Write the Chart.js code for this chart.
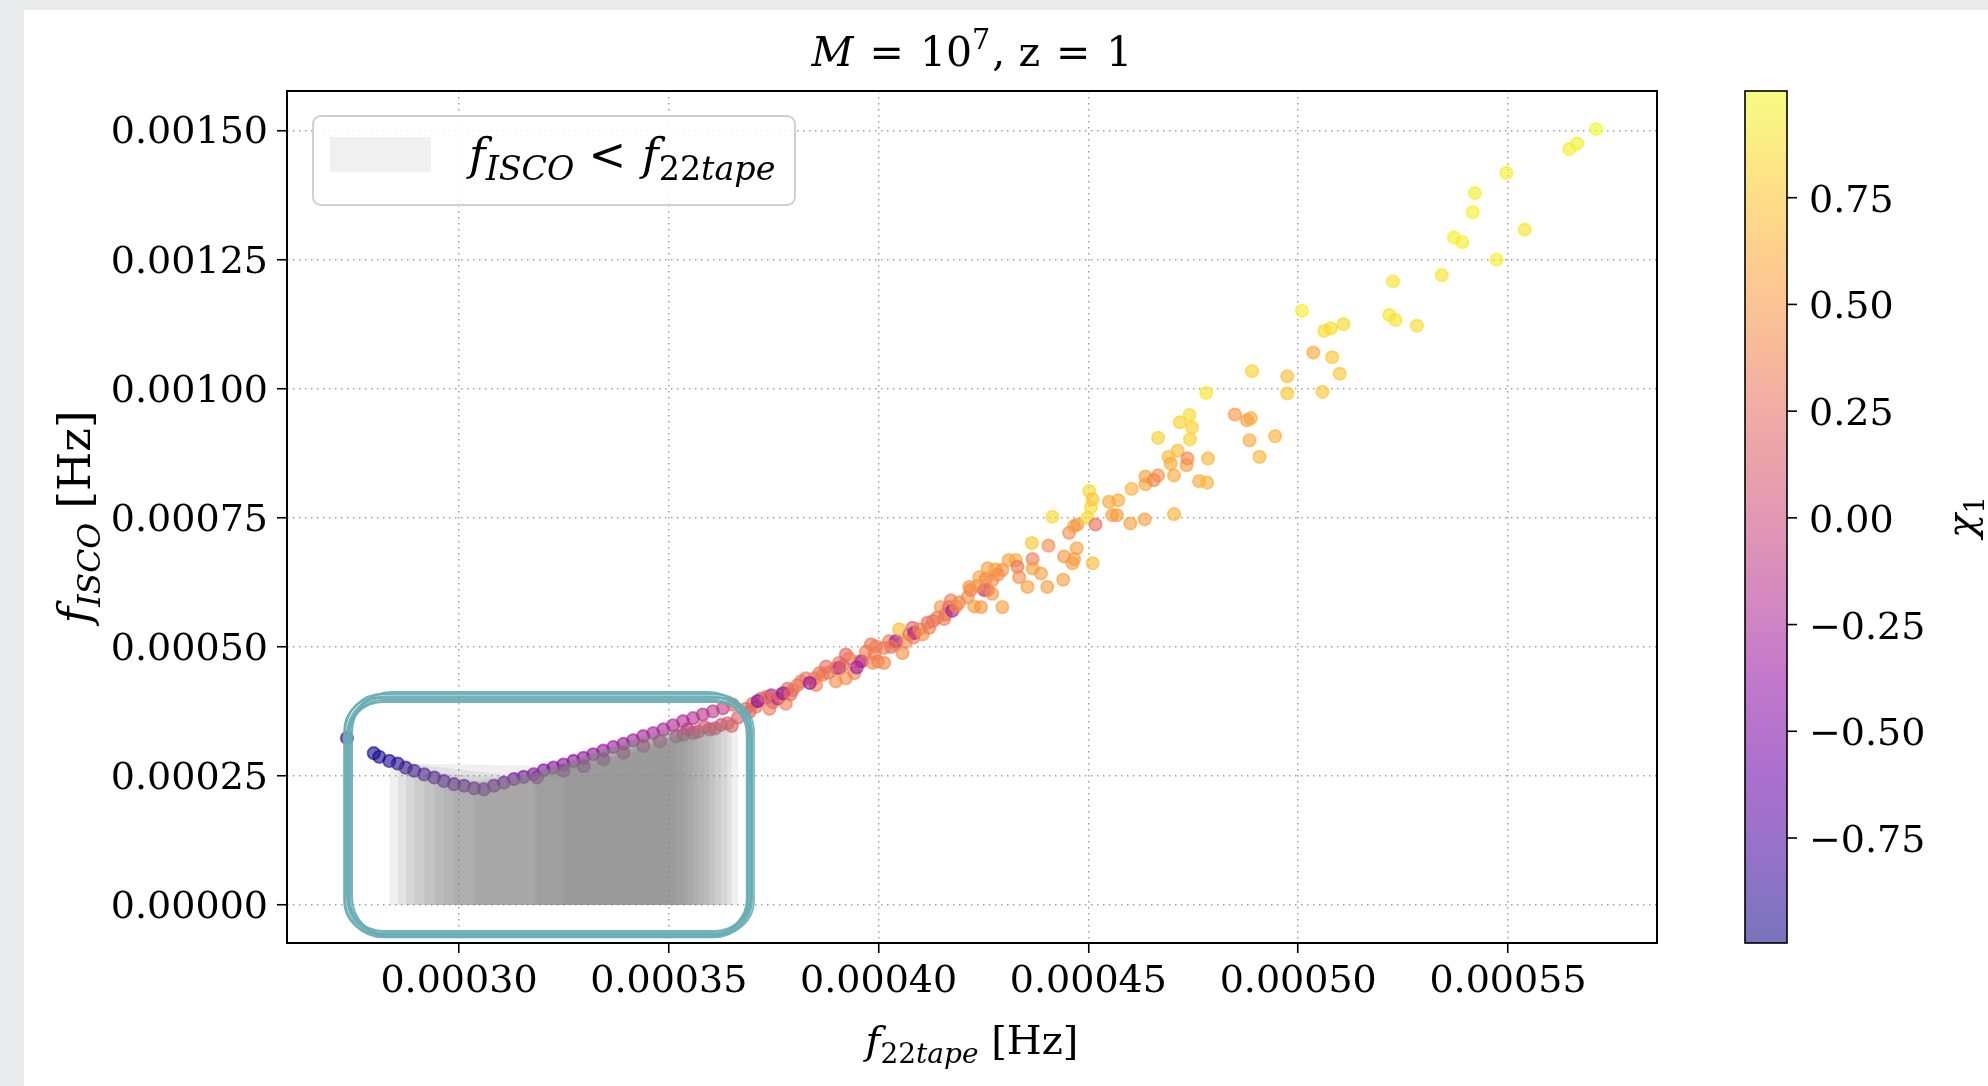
<!DOCTYPE html>
<html>
<head>
<meta charset="utf-8">
<title>f_ISCO vs f_22tape</title>
<style>
  html, body { margin: 0; padding: 0; background: #e9eaec; }
  #wrap { position: absolute; left: 0; top: 0; width: 1988px; height: 1086px; }
  canvas { display: block; }
</style>
<script src="https://cdn.jsdelivr.net/npm/chart.js@4.4.1/dist/chart.umd.min.js"></script>
</head>
<body>
<div id="wrap"><canvas id="c" width="1988" height="1086"></canvas></div>
<script>
// ---- samples: 22-mode tape frequency, ISCO frequency, primary spin ----
const f22tape = [
  2.733e-4, 2.797e-4, 2.810e-4, 2.834e-4, 2.854e-4, 2.873e-4, 2.893e-4, 2.917e-4, 2.941e-4, 2.964e-4,
  2.988e-4, 3.012e-4, 3.036e-4, 3.059e-4, 3.083e-4, 3.107e-4, 3.131e-4, 3.154e-4, 3.178e-4, 3.202e-4,
  3.225e-4, 3.249e-4, 3.273e-4, 3.297e-4, 3.320e-4, 3.344e-4, 3.368e-4, 3.392e-4, 3.415e-4, 3.439e-4,
  3.463e-4, 3.487e-4, 3.510e-4, 3.534e-4, 3.558e-4, 3.581e-4, 3.605e-4, 3.629e-4, 3.653e-4,
  3.186e-4, 3.249e-4, 3.297e-4, 3.344e-4, 3.392e-4, 3.439e-4, 3.479e-4, 3.518e-4, 3.535e-4, 3.545e-4,
  3.558e-4, 3.570e-4, 3.585e-4, 3.597e-4, 3.610e-4, 3.625e-4, 3.640e-4, 3.650e-4, 3.665e-4,
  3.684e-4, 3.692e-4, 3.700e-4, 3.708e-4, 3.720e-4, 3.740e-4, 3.744e-4, 3.748e-4, 3.760e-4, 3.764e-4,
  3.779e-4, 3.783e-4, 3.795e-4, 3.807e-4, 3.815e-4, 3.827e-4, 3.847e-4, 3.851e-4, 3.859e-4, 3.867e-4,
  3.875e-4, 3.898e-4, 3.898e-4, 3.906e-4, 3.906e-4, 3.922e-4, 3.922e-4, 3.930e-4, 3.942e-4, 3.954e-4,
  3.960e-4, 3.970e-4, 3.982e-4, 3.986e-4, 3.994e-4, 3.998e-4, 4.013e-4, 4.013e-4, 4.025e-4, 4.041e-4,
  4.041e-4, 4.049e-4, 4.057e-4, 4.073e-4, 4.081e-4, 4.083e-4, 4.085e-4, 4.097e-4, 4.105e-4, 4.117e-4,
  4.121e-4, 4.140e-4, 4.148e-4, 4.156e-4, 4.160e-4, 4.168e-4, 4.172e-4, 4.176e-4, 4.192e-4, 4.212e-4,
  4.216e-4, 4.220e-4, 4.228e-4, 4.240e-4, 4.244e-4, 4.252e-4, 4.256e-4, 4.260e-4, 4.260e-4, 4.271e-4,
  4.271e-4, 4.279e-4, 4.295e-4, 4.295e-4, 4.310e-4, 4.327e-4, 4.331e-4, 4.335e-4, 4.355e-4, 4.365e-4,
  4.367e-4, 4.367e-4, 4.387e-4, 4.402e-4, 4.405e-4, 4.414e-4, 4.440e-4, 4.442e-4, 4.454e-4, 4.462e-4,
  4.466e-4, 4.466e-4, 4.472e-4, 4.474e-4, 4.498e-4, 4.502e-4, 4.506e-4, 4.510e-4, 4.510e-4, 4.517e-4,
  4.549e-4, 4.557e-4, 4.568e-4, 4.571e-4, 4.600e-4, 4.603e-4, 4.634e-4, 4.636e-4, 4.636e-4, 4.656e-4,
  4.666e-4, 4.666e-4, 4.691e-4, 4.696e-4, 4.704e-4, 4.704e-4, 4.713e-4, 4.718e-4, 4.734e-4, 4.736e-4,
  4.741e-4, 4.742e-4, 4.747e-4, 4.764e-4, 4.781e-4, 4.783e-4, 4.785e-4, 4.849e-4, 4.878e-4, 4.887e-4,
  4.884e-4, 4.890e-4, 4.908e-4, 4.945e-4, 4.974e-4, 4.974e-4, 5.009e-4, 5.036e-4, 5.058e-4, 5.062e-4,
  5.078e-4, 5.081e-4, 5.099e-4, 5.108e-4, 5.217e-4, 5.226e-4, 5.232e-4, 5.283e-4, 5.342e-4, 5.371e-4,
  5.391e-4, 5.416e-4, 5.421e-4, 5.473e-4, 5.496e-4, 5.540e-4, 5.646e-4, 5.665e-4, 5.710e-4,
  3.712e-4, 3.733e-4, 3.772e-4, 3.790e-4, 3.836e-4, 3.880e-4, 3.915e-4, 3.948e-4, 3.990e-4, 4.030e-4,
  4.065e-4, 4.130e-4, 4.185e-4, 4.235e-4, 4.285e-4
];
const fISCO = [
  3.235e-4, 2.940e-4, 2.870e-4, 2.790e-4, 2.740e-4, 2.660e-4, 2.600e-4, 2.530e-4, 2.470e-4, 2.400e-4,
  2.340e-4, 2.310e-4, 2.260e-4, 2.240e-4, 2.310e-4, 2.370e-4, 2.440e-4, 2.480e-4, 2.530e-4, 2.610e-4,
  2.660e-4, 2.720e-4, 2.790e-4, 2.850e-4, 2.920e-4, 2.990e-4, 3.060e-4, 3.120e-4, 3.190e-4, 3.270e-4,
  3.330e-4, 3.400e-4, 3.480e-4, 3.560e-4, 3.620e-4, 3.690e-4, 3.750e-4, 3.810e-4, 3.880e-4,
  2.470e-4, 2.600e-4, 2.690e-4, 2.820e-4, 2.950e-4, 3.080e-4, 3.170e-4, 3.270e-4, 3.300e-4, 3.400e-4,
  3.330e-4, 3.360e-4, 3.450e-4, 3.400e-4, 3.420e-4, 3.490e-4, 3.520e-4, 3.470e-4, 3.630e-4,
  3.80e-4, 3.74e-4, 3.90e-4, 3.84e-4, 4.00e-4, 3.80e-4, 4.06e-4, 3.93e-4, 4.00e-4, 4.06e-4,
  3.90e-4, 4.19e-4, 4.16e-4, 4.26e-4, 4.33e-4, 4.39e-4, 4.39e-4, 4.26e-4, 4.49e-4, 4.46e-4,
  4.62e-4, 4.59e-4, 4.33e-4, 4.69e-4, 4.59e-4, 4.85e-4, 4.39e-4, 4.78e-4, 4.49e-4, 4.72e-4,
  4.72e-4, 4.91e-4, 5.05e-4, 4.69e-4, 5.01e-4, 4.72e-4, 4.98e-4, 4.69e-4, 5.11e-4, 5.05e-4,
  5.11e-4, 5.34e-4, 4.88e-4, 5.24e-4, 5.37e-4, 5.18e-4, 5.27e-4, 5.34e-4, 5.24e-4, 5.47e-4,
  5.37e-4, 5.57e-4, 5.77e-4, 5.54e-4, 5.63e-4, 5.77e-4, 5.90e-4, 5.70e-4, 5.86e-4, 5.96e-4,
  6.16e-4, 6.10e-4, 5.78e-4, 6.35e-4, 5.77e-4, 6.10e-4, 6.32e-4, 6.52e-4, 6.10e-4, 6.29e-4,
  6.03e-4, 6.50e-4, 6.49e-4, 5.77e-4, 6.68e-4, 6.68e-4, 6.55e-4, 6.35e-4, 6.16e-4, 7.01e-4,
  6.70e-4, 6.52e-4, 6.42e-4, 6.16e-4, 6.96e-4, 7.52e-4, 6.30e-4, 6.75e-4, 7.21e-4, 6.62e-4,
  6.70e-4, 7.34e-4, 6.91e-4, 7.37e-4, 7.50e-4, 8.02e-4, 7.70e-4, 7.86e-4, 6.62e-4, 7.37e-4,
  7.81e-4, 7.55e-4, 7.55e-4, 7.84e-4, 7.39e-4, 8.06e-4, 7.47e-4, 8.15e-4, 8.30e-4, 8.23e-4,
  8.32e-4, 9.05e-4, 8.68e-4, 8.55e-4, 8.32e-4, 7.57e-4, 8.80e-4, 9.35e-4, 8.52e-4, 8.65e-4,
  9.49e-4, 9.02e-4, 9.25e-4, 8.21e-4, 9.92e-4, 8.18e-4, 8.65e-4, 9.50e-4, 9.39e-4, 9.43e-4,
  9.00e-4, 10.34e-4, 8.68e-4, 9.08e-4, 10.24e-4, 9.91e-4, 11.51e-4, 10.70e-4, 9.94e-4, 11.12e-4,
  11.17e-4, 10.61e-4, 10.29e-4, 11.25e-4, 11.43e-4, 12.08e-4, 11.33e-4, 11.22e-4, 12.20e-4, 12.93e-4,
  12.84e-4, 13.42e-4, 13.79e-4, 12.50e-4, 14.18e-4, 13.08e-4, 14.64e-4, 14.75e-4, 15.03e-4,
  3.95e-4, 4.03e-4, 4.10e-4, 4.08e-4, 4.30e-4, 4.50e-4, 4.64e-4, 4.60e-4, 4.86e-4, 5.00e-4,
  5.10e-4, 5.50e-4, 5.78e-4, 6.18e-4, 6.40e-4
];
const chi1 = [
  -0.80, -0.996, -0.95, -0.93, -0.90, -0.87, -0.84, -0.80, -0.77, -0.74,
  -0.71, -0.68, -0.66, -0.63, -0.60, -0.58, -0.55, -0.53, -0.50, -0.48,
  -0.46, -0.44, -0.42, -0.40, -0.38, -0.36, -0.34, -0.32, -0.30, -0.28,
  -0.26, -0.24, -0.22, -0.20, -0.18, -0.15, -0.12, -0.08, 0.20,
  -0.40, -0.35, -0.30, -0.25, -0.20, -0.15, -0.10, -0.05, 0.00, -0.10,
  0.00, 0.05, 0.10, 0.05, 0.10, 0.10, 0.15, 0.20, 0.15,
  0.20, 0.15, 0.25, 0.30, 0.25, 0.35, -0.30, 0.25, -0.25, 0.30,
  0.35, 0.30, 0.25, 0.30, 0.35, 0.30, 0.35, 0.40, 0.30, 0.35,
  0.25, 0.30, 0.45, 0.30, -0.20, 0.20, 0.45, 0.35, 0.40, 0.40,
  -0.25, 0.35, 0.30, 0.45, 0.35, 0.40, 0.30, 0.40, 0.35, 0.40,
  -0.30, 0.70, 0.45, 0.30, 0.20, 0.35, -0.25, 0.40, 0.45, 0.25,
  0.35, 0.35, 0.50, 0.35, 0.30, 0.20, 0.35, -0.30, 0.40, 0.45,
  0.50, 0.40, 0.55, 0.60, 0.50, -0.20, 0.40, 0.55, 0.25, 0.45,
  0.50, 0.55, 0.50, 0.55, 0.55, 0.60, 0.30, 0.45, 0.55, 0.75,
  0.35, 0.55, 0.55, 0.55, 0.45, 0.85, 0.55, 0.50, 0.45, 0.55,
  0.55, 0.55, 0.55, 0.50, 0.85, 0.85, 0.85, 0.75, 0.70, 0.25,
  0.60, 0.55, 0.55, 0.60, 0.55, 0.65, 0.55, 0.60, 0.55, 0.40,
  0.45, 0.80, 0.70, 0.60, 0.60, 0.65, 0.70, 0.80, 0.55, 0.40,
  0.85, 0.80, 0.80, 0.60, 0.90, 0.65, 0.65, 0.50, 0.55, 0.60,
  0.60, 0.80, 0.65, 0.65, 0.70, 0.75, 0.95, 0.60, 0.75, 0.85,
  0.85, 0.75, 0.75, 0.85, 0.90, 0.90, 0.90, 0.85, 0.90, 0.95,
  0.95, 0.95, 0.95, 0.95, 0.95, 0.90, 0.95, 0.95, 1.00,
  -0.45, 0.20, -0.40, 0.25, -0.35, 0.30, 0.20, -0.30, 0.35, 0.30,
  0.40, 0.30, 0.45, 0.50, 0.45
];
// fill_between run each sample belongs to when f_ISCO < f_22tape (null: not shaded)
const fillRun = [
  null, null, null, 0, 1, 2, 3, 4, 5, 6,
  7, 4, 8, 2, 6, 5, 3, 0, 10, 7,
  8, 11, 9, 11, 10, 11, 10, 9, 3, 8,
  7, 0, 5, null, null, null, null, null, null,
  9, 6, 1, 4, 5, 2, 6, 11, 10, 9,
  8, 7, 6, 5, 4, 3, 2, 1, 0
];

// ---- axes ----
const xTicks = [0.00030, 0.00035, 0.00040, 0.00045, 0.00050, 0.00055];
const yTicks = [0.00000, 0.00025, 0.00050, 0.00075, 0.00100, 0.00125, 0.00150];
const cbTicks = [-0.75, -0.50, -0.25, 0.00, 0.25, 0.50, 0.75];
const X_MIN = 0.00025901, X_MAX = 0.00058551;
const Y_MIN = -0.0000736, Y_MAX = 0.0015767;

// highlighted region (data units)
const highlight = { x0: 0.00027355, x1: 0.00036935, y0: -0.0000580, y1: 0.00040288 };

const FONT = '"DejaVu Serif", serif';
const ALPHA = 0.56;

// plasma colour map
const PLASMA = [[13,8,135],[65,4,157],[106,0,168],[143,13,164],[177,42,144],[204,71,120],
                [225,100,98],[242,132,75],[252,166,54],[252,206,37],[240,249,33]];
function plasma(t) {
  t = Math.max(0, Math.min(1, t));
  const p = t * (PLASMA.length - 1);
  const i = Math.min(Math.floor(p), PLASMA.length - 2);
  const f = p - i;
  return PLASMA[i].map((c, k) => Math.round(c + (PLASMA[i + 1][k] - c) * f));
}
const CB_MIN = Math.min(...chi1), CB_MAX = Math.max(...chi1);
function chiColor(v, a) {
  const c = plasma((v - CB_MIN) / (CB_MAX - CB_MIN));
  return `rgba(${c[0]},${c[1]},${c[2]},${a})`;
}

// ---- datasets ----
const pointFill = chi1.map(v => chiColor(v, 0.6));
const scatterSet = {
  type: 'scatter',
  data: f22tape.map((x, i) => ({ x, y: fISCO[i] })),
  pointRadius: 6.2,
  pointBorderWidth: 1.8,
  pointBackgroundColor: pointFill,
  pointBorderColor: pointFill,
  order: 1
};
const runIds = [...new Set(fillRun.filter(r => r !== null))];
const fillSets = runIds.map(id => {
  const pts = [];
  fillRun.forEach((r, i) => { if (r === id) pts.push({ x: f22tape[i], y: fISCO[i] }); });
  pts.sort((a, b) => a.x - b.x);
  return {
    type: 'line', data: pts, fill: 'origin',
    backgroundColor: 'rgba(128,128,128,0.12)', borderColor: 'rgba(0,0,0,0)',
    borderWidth: 0, pointRadius: 0, tension: 0, order: 0
  };
});

// ---- text helpers (math-like runs with sub/superscripts) ----
function fontStr(size, italic) { return (italic ? 'italic ' : '') + size + 'px ' + FONT; }
function drawRich(ctx, parts, size, x, y, align, rot, subScale) {
  const ss = subScale || 0.7;
  ctx.save();
  ctx.translate(x, y);
  if (rot) ctx.rotate(rot);
  let w = 0;
  const items = parts.map(p => {
    const s = (p.sub || p.sup) ? size * ss : size;
    ctx.font = fontStr(s, p.it);
    const it = { t: p.t, font: ctx.font, x: w + (p.pre || 0), dy: p.sub ? size * 0.22 : (p.sup ? -size * 0.42 : 0) };
    w += (p.pre || 0) + ctx.measureText(p.t).width + (p.gap || 0);
    return it;
  });
  const x0 = align === 'center' ? -w / 2 : 0;
  ctx.fillStyle = '#000';
  ctx.textAlign = 'left';
  ctx.textBaseline = 'alphabetic';
  items.forEach(it => { ctx.font = it.font; ctx.fillText(it.t, x0 + it.x, it.dy); });
  ctx.restore();
}
function roundRectPath(ctx, x, y, w, h, r) {
  ctx.beginPath();
  ctx.moveTo(x + r, y);
  ctx.arcTo(x + w, y, x + w, y + h, r);
  ctx.arcTo(x + w, y + h, x, y + h, r);
  ctx.arcTo(x, y + h, x, y, r);
  ctx.arcTo(x, y, x + w, y, r);
  ctx.closePath();
}

const pagePlugin = {
  id: 'page',
  beforeDraw(chart) {
    const ctx = chart.ctx;
    ctx.save();
    ctx.fillStyle = '#e9eaec';
    ctx.fillRect(0, 0, chart.width, chart.height);
    ctx.fillStyle = '#ffffff';
    ctx.fillRect(24, 10, chart.width - 24, chart.height - 10);
    ctx.restore();
  }
};

const decorPlugin = {
  id: 'decor',
  afterDraw(chart) {
    const ctx = chart.ctx;
    const a = chart.chartArea;
    const sx = chart.scales.x, sy = chart.scales.y;

    // axes frame
    ctx.save();
    ctx.strokeStyle = '#000';
    ctx.lineWidth = 2;
    ctx.strokeRect(a.left, a.top, a.right - a.left, a.bottom - a.top);
    ctx.restore();

    // legend
    ctx.save();
    roundRectPath(ctx, 313, 116, 482, 89, 8);
    ctx.fillStyle = 'rgba(255,255,255,0.85)';
    ctx.fill();
    ctx.strokeStyle = '#d0d0d0';
    ctx.lineWidth = 2;
    ctx.stroke();
    ctx.fillStyle = 'rgba(128,128,128,0.12)';
    ctx.fillRect(330, 137, 101, 35);
    ctx.restore();
    drawRich(ctx, [{ t: 'f', it: true }, { t: 'ISCO', it: true, sub: true, gap: 14 }, { t: '<', gap: 16 },
                   { t: 'f', it: true }, { t: '22', sub: true }, { t: 'tape', it: true, sub: true }],
             45, 469, 170, 'left', 0, 0.74);

    // title and axis labels
    drawRich(ctx, [{ t: 'M', it: true }, { t: '=', pre: 16, gap: 16 }, { t: '10' }, { t: '7', sup: true }, { t: ', z', pre: 2 }, { t: '=', pre: 16, gap: 16 }, { t: '1' }],
             41, (a.left + a.right) / 2, 66, 'center');
    drawRich(ctx, [{ t: 'f', it: true }, { t: '22', sub: true }, { t: 'tape', it: true, sub: true }, { t: ' [Hz]' }],
             40, (a.left + a.right) / 2, 1054, 'center');
    drawRich(ctx, [{ t: 'f', it: true }, { t: 'ISCO', it: true, sub: true }, { t: ' [Hz]' }],
             45, 90, (a.top + a.bottom) / 2, 'center', -Math.PI / 2);

    // colour bar
    const cbL = 1745, cbR = 1787, cbT = a.top, cbB = a.bottom;
    ctx.save();
    for (let y = cbT; y < cbB; y++) {
      const v = CB_MAX - (y + 0.5 - cbT) / (cbB - cbT) * (CB_MAX - CB_MIN);
      ctx.fillStyle = chiColor(v, ALPHA);
      ctx.fillRect(cbL, y, cbR - cbL, 1);
    }
    ctx.strokeStyle = '#000';
    ctx.lineWidth = 1.6;
    ctx.strokeRect(cbL, cbT, cbR - cbL, cbB - cbT);
    ctx.font = fontStr(38, false);
    ctx.fillStyle = '#000';
    ctx.textAlign = 'left';
    ctx.textBaseline = 'alphabetic';
    cbTicks.forEach(v => {
      const py = cbB - (v - CB_MIN) / (CB_MAX - CB_MIN) * (cbB - cbT);
      ctx.beginPath();
      ctx.moveTo(cbR, py);
      ctx.lineTo(cbR + 10, py);
      ctx.stroke();
      const s = (v < 0 ? '\u2212' : '') + Math.abs(v).toFixed(2);
      ctx.fillText(s, 1809, py + 14);
    });
    ctx.restore();
    drawRich(ctx, [{ t: '\u03c7', it: true }, { t: '1', sub: true }], 40, 1975, (a.top + a.bottom) / 2, 'center', -Math.PI / 2);

    // hand-drawn highlight around the shaded region
    const hx0 = sx.getPixelForValue(highlight.x0), hx1 = sx.getPixelForValue(highlight.x1);
    const hy0 = sy.getPixelForValue(highlight.y1), hy1 = sy.getPixelForValue(highlight.y0);
    const strokes = [[0, 0, 0, 0, 3, 36], [-3, -3, 2, 2, 2.4, 38], [2, 3, -3, -2, 2.4, 34],
                     [-1, 5, 1, -4, 2, 36], [4, -5, -2, 2, 2, 40], [-4, 1, 4, -1, 1.6, 33]];
    ctx.save();
    ctx.strokeStyle = 'rgba(104,172,180,0.92)';
    strokes.forEach(s => {
      ctx.lineWidth = s[4];
      roundRectPath(ctx, hx0 + s[0], hy0 + s[1], (hx1 + s[2]) - (hx0 + s[0]), (hy1 + s[3]) - (hy0 + s[1]), s[5]);
      ctx.stroke();
    });
    ctx.restore();
  }
};

new Chart(document.getElementById('c'), {
  type: 'scatter',
  data: { datasets: [scatterSet, ...fillSets] },
  options: {
    responsive: false,
    devicePixelRatio: 1,
    animation: false,
    events: [],
    layout: { padding: { left: 0, top: 91, right: 331, bottom: 0 } },
    plugins: { legend: { display: false }, tooltip: { enabled: false }, title: { display: false } },
    scales: {
      x: {
        type: 'linear', position: 'bottom', min: X_MIN, max: X_MAX,
        afterBuildTicks: s => { s.ticks = xTicks.map(v => ({ value: v })); },
        afterFit: s => { s.height = 143; },
        ticks: { callback: v => v.toFixed(5), font: { family: FONT, size: 38 }, color: '#000', padding: 6, maxRotation: 0, autoSkip: false },
        grid: { color: '#a0a0a0', lineWidth: 1.5, tickColor: '#000', tickLength: 10, tickWidth: 1.6 },
        border: { display: false, dash: [1.5, 4.5] }
      },
      y: {
        type: 'linear', position: 'left', min: Y_MIN, max: Y_MAX,
        afterBuildTicks: s => { s.ticks = yTicks.map(v => ({ value: v })); },
        afterFit: s => { s.width = 287; },
        ticks: { callback: v => v.toFixed(5), font: { family: FONT, size: 38 }, color: '#000', padding: 9, labelOffset: 3, autoSkip: false },
        grid: { color: '#a0a0a0', lineWidth: 1.5, tickColor: '#000', tickLength: 10, tickWidth: 1.6 },
        border: { display: false, dash: [1.5, 4.5] }
      }
    }
  },
  plugins: [pagePlugin, decorPlugin]
});
</script>
</body>
</html>
